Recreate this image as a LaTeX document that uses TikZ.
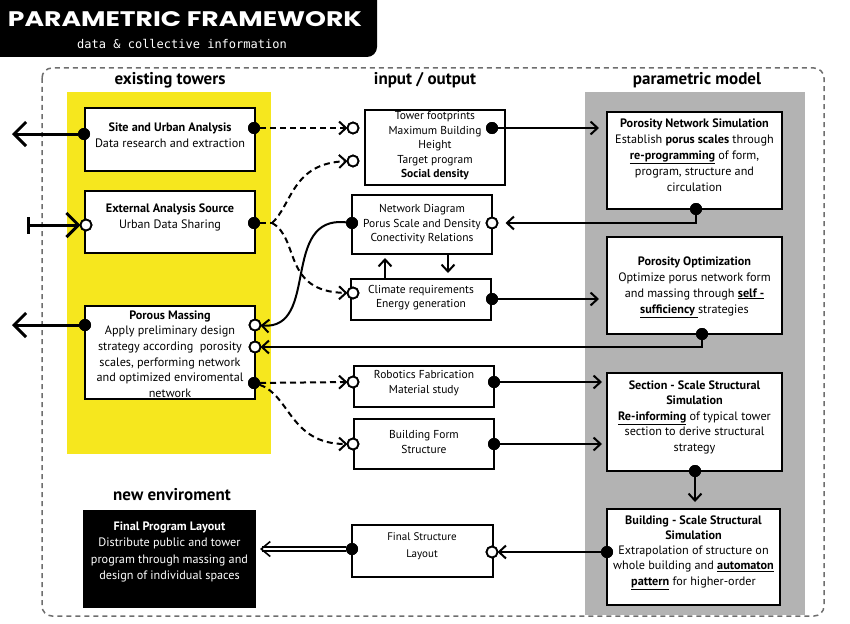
\documentclass[tikz,border=0pt]{standalone}
\usepackage{fontspec}
\setmainfont{PT Sans}
\newfontfamily\titlefont{Poppins}
\newfontfamily\submono{DejaVu Sans Mono}
\usetikzlibrary{arrows.meta,calc}
\definecolor{tyellow}{HTML}{F6E71E}
\definecolor{tgray}{HTML}{B3B3B3}
\definecolor{dgray}{HTML}{6E6E6E}
\newcommand\ub[1]{\underline{\textbf{#1}}}
\begin{document}
\begin{tikzpicture}[x=1pt,y=-1pt,
  every node/.style={inner sep=0pt, outer sep=0pt},
  txt/.style={align=center, font=\fontsize{12.2}{15.5}\selectfont},
  ctxt/.style={align=center, font=\fontsize{11.5}{14.5}\selectfont},
  box/.style={draw, line width=2pt, fill=white},
  dotp/.style={circle, fill=black, minimum size=12pt},
  openp/.style={circle, draw, line width=1.8pt, fill=white, minimum size=11pt},
  con/.style={line width=2pt},
  dsh/.style={line width=2pt, dash pattern=on 6pt off 4pt},
  heavy/.style={line width=3pt},
  hdr/.style={font=\bfseries\fontsize{17}{19}\selectfont},
  chev/.style={-{Straight Barb[length=7pt,width=13pt]}},
  bigchev/.style={-{Straight Barb[length=12pt,width=24pt]}},
]
\useasboundingbox (0,0) rectangle (850,623);
% title
\fill[black, rounded corners=10pt] (-15,-15) rectangle (377,57);
\node[text=white] (title) at (185,19) {\resizebox{354pt}{15pt}{\titlefont\bfseries PARAMETRIC FRAMEWORK}};
\node[text=white, font=\submono\fontsize{12}{14}\selectfont] (subtitle) at (182,44) {data \& collective information};
% frame and backgrounds
\draw[dgray, line width=1.5pt, dash pattern=on 5pt off 4pt, rounded corners=10pt] (42,68) rectangle (824,616);
\fill[tyellow] (67,92) rectangle (271,454);
\fill[tgray] (585,92) rectangle (805,615);
% headers
\node[hdr] (h1) at (170,80) {existing towers};
\node[hdr] (h2) at (425,80) {input / output};
\node[hdr] (h3) at (697,80) {parametric model};
\node[hdr] (h4) at (172,495) {new enviroment};
% left boxes
\node[box, minimum width=170pt, minimum height=63pt] (site) at (170,139.5) {};
\node[txt] (siteT) at (170,135) {\textbf{Site and Urban Analysis}\\Data research and extraction};
\node[box, minimum width=170pt, minimum height=62pt] (ext) at (170,222) {};
\node[txt] (extT) at (170,217.5) {\textbf{External Analysis Source}\\Urban Data Sharing};
\node[box, minimum width=170pt, minimum height=93pt] (por) at (170,352.5) {};
\node[txt, font=\fontsize{12.2}{15.6}\selectfont] (porT) at (170,354) {\textbf{Porous Massing}\\Apply preliminary design\\strategy according\ \ porosity\\scales, performing network\\and optimized enviromental\\network};
\node[box, fill=black, minimum width=171pt, minimum height=96pt] (fpl) at (169.5,559) {};
\node[txt, text=white, font=\fontsize{12.2}{16.3}\selectfont] (fplT) at (169.5,552) {\textbf{Final Program Layout}\\Distribute public and tower\\program through massing and\\design of individual spaces};
% center boxes
\node[box, minimum width=140pt, minimum height=75pt] (tow) at (435,147.5) {};
\node[ctxt] (towT) at (435,146) {Tower footprints\\Maximum Building\\Height\\Target program\\\textbf{Social density}};
\node[box, minimum width=140pt, minimum height=59pt] (net) at (422,224.5) {};
\node[ctxt] (netT) at (422,224.5) {Network Diagram\\Porus Scale and Density\\Conectivity Relations};
\node[box, minimum width=140pt, minimum height=41pt] (cli) at (421,299.5) {};
\node[ctxt, font=\fontsize{11.5}{14}\selectfont] (cliT) at (421,298) {Climate requirements\\Energy generation};
\node[box, minimum width=140pt, minimum height=41pt] (rob) at (424,386.5) {};
\node[ctxt, font=\fontsize{11.5}{15}\selectfont] (robT) at (424,383.5) {Robotics Fabrication\\Material study};
\node[box, minimum width=140pt, minimum height=50pt] (bf) at (424,444) {};
\node[ctxt, font=\fontsize{11.5}{15}\selectfont] (bfT) at (424,441.5) {Building Form\\Structure};
\node[box, minimum width=141pt, minimum height=52pt] (fs) at (422.5,551) {};
\node[ctxt, font=\fontsize{11}{17}\selectfont] (fsT) at (422,546) {Final Structure\\Layout};
% right boxes
\node[box, minimum width=175pt, minimum height=97pt] (pns) at (694.5,160.5) {};
\node[txt, font=\fontsize{12.2}{16}\selectfont] (pnsT) at (694.5,155) {\textbf{Porosity Network Simulation}\\Establish \textbf{porus scales} through\\\ub{re-programming} of form,\\program, structure and\\circulation};
\node[box, minimum width=175pt, minimum height=97pt] (po) at (694.5,285.5) {};
\node[txt, font=\fontsize{12.2}{16}\selectfont] (poT) at (694.5,287) {\textbf{Porosity Optimization}\\Optimize porus network form\\and massing through \ub{self -}\\\ub{sufficiency }strategies};
\node[box, minimum width=175pt, minimum height=98pt] (sec) at (694.5,422) {};
\node[txt, font=\fontsize{12.2}{15.5}\selectfont] (secT) at (694.5,417) {\textbf{Section - Scale Structural}\\\textbf{Simulation}\\\ub{Re-informing} of typical tower\\section to derive structural\\strategy};
\node[box, minimum width=173pt, minimum height=96pt] (bss) at (693.5,557) {};
\node[txt, font=\fontsize{12.2}{15.3}\selectfont] (bssT) at (693.5,552.5) {\textbf{Building - Scale Structural}\\\textbf{Simulation}\\Extrapolation of structure on\\whole building and \ub{automaton}\\\ub{pattern} for higher-order};
% ports
\node[dotp] (siteL) at (84,134) {};
\node[dotp] (siteR) at (254,128) {};
\node[openp] (extL) at (86,225) {};
\node[dotp] (extR) at (254,223) {};
\node[dotp] (porL) at (85,325) {};
\node[openp] (porR1) at (255,325) {};
\node[openp] (porR2) at (255,347) {};
\node[dotp] (porR3) at (254,383) {};
\node[openp] (towC1) at (353,128) {};
\node[openp] (towC2) at (353,161) {};
\node[dotp] (towR) at (492,128) {};
\node[dotp] (netL) at (352,223) {};
\node[openp] (netR) at (492,223) {};
\node[openp] (cliL) at (353,293) {};
\node[dotp] (cliR) at (492,299) {};
\node[openp] (robL) at (353,382) {};
\node[dotp] (robR) at (494,382) {};
\node[openp] (bfL) at (353,444) {};
\node[dotp] (bfR) at (494,444) {};
\node[dotp] (fsL) at (352,549) {};
\node[openp] (fsR) at (492,552) {};
\node[dotp] (pnsB) at (696,209) {};
\node[dotp] (poB) at (702,334) {};
\node[dotp] (secB) at (695,471) {};
\node[dotp] (bssL) at (607,552) {};
% free ends
\coordinate (farL1) at (12,134);
\coordinate (farL2) at (12,325);
\coordinate (barX) at (27,225);
\coordinate (split) at (272,223);
\coordinate (upx) at (385,0);
\coordinate (dnx) at (448,0);
% connectors
\draw[heavy, bigchev] (siteL) -- (farL1);
\draw[heavy, bigchev] (porL) -- (farL2);
\draw[heavy, {Bar[width=17pt]}-{Straight Barb[length=12pt,width=24pt]}] (barX) -- (extL);
\draw[dsh, chev] (siteR) -- (towC1);
\draw[dsh] (extR) -- (split);
\draw[dsh, chev] (split) .. controls (292,205) and (292,163) .. (towC2);
\draw[dsh, chev] (split) .. controls (300,238) and (282,292) .. (cliL);
\draw[con, chev] (netL) .. controls (280,215) and (320,330) .. (porR1);
\draw[con, chev] (poB) |- (porR2);
\draw[dsh, chev] (porR3) -- (robL);
\draw[dsh, chev] (porR3) .. controls (290,395) and (290,444) .. (bfL);
\draw[con, chev, shorten >=8pt] (towR) -- (towR -| pns.west);
\draw[con, chev, shorten >=8pt] (pnsB) |- (netR);
\draw[con, chev, shorten >=8pt] (cliR) -- (cliR -| po.west);
\draw[con, chev, shorten >=4pt] (cli.north -| upx) -- (net.south -| upx);
\draw[con, chev, shorten >=6pt] (net.south -| dnx) -- (cli.north -| dnx);
\draw[con, chev, shorten >=5pt] (robR) -- (robR -| sec.west);
\draw[con, chev, shorten >=5pt] (bfR) -- (bfR -| sec.west);
\draw[con, chev, shorten >=7pt] (secB) -- (secB |- bss.north);
\draw[con, chev] (bssL) -- (fsR);
\draw[line width=1.6pt, double distance=2.4pt, -{Straight Barb[length=9pt,width=15pt]}, shorten >=5pt] (fsL) -- (fsL -| fpl.east);
% redraw ports on top
\foreach \n in {siteL,siteR,extR,porL,porR3,towR,netL,cliR,robR,bfR,fsL,pnsB,poB,secB,bssL}{\fill (\n) circle (6pt);}
\foreach \n in {extL,porR1,porR2,towC1,towC2,netR,cliL,robL,bfL,fsR}{\draw[line width=1.8pt, fill=white] (\n) circle (5.5pt);}
\end{tikzpicture}
\end{document}
